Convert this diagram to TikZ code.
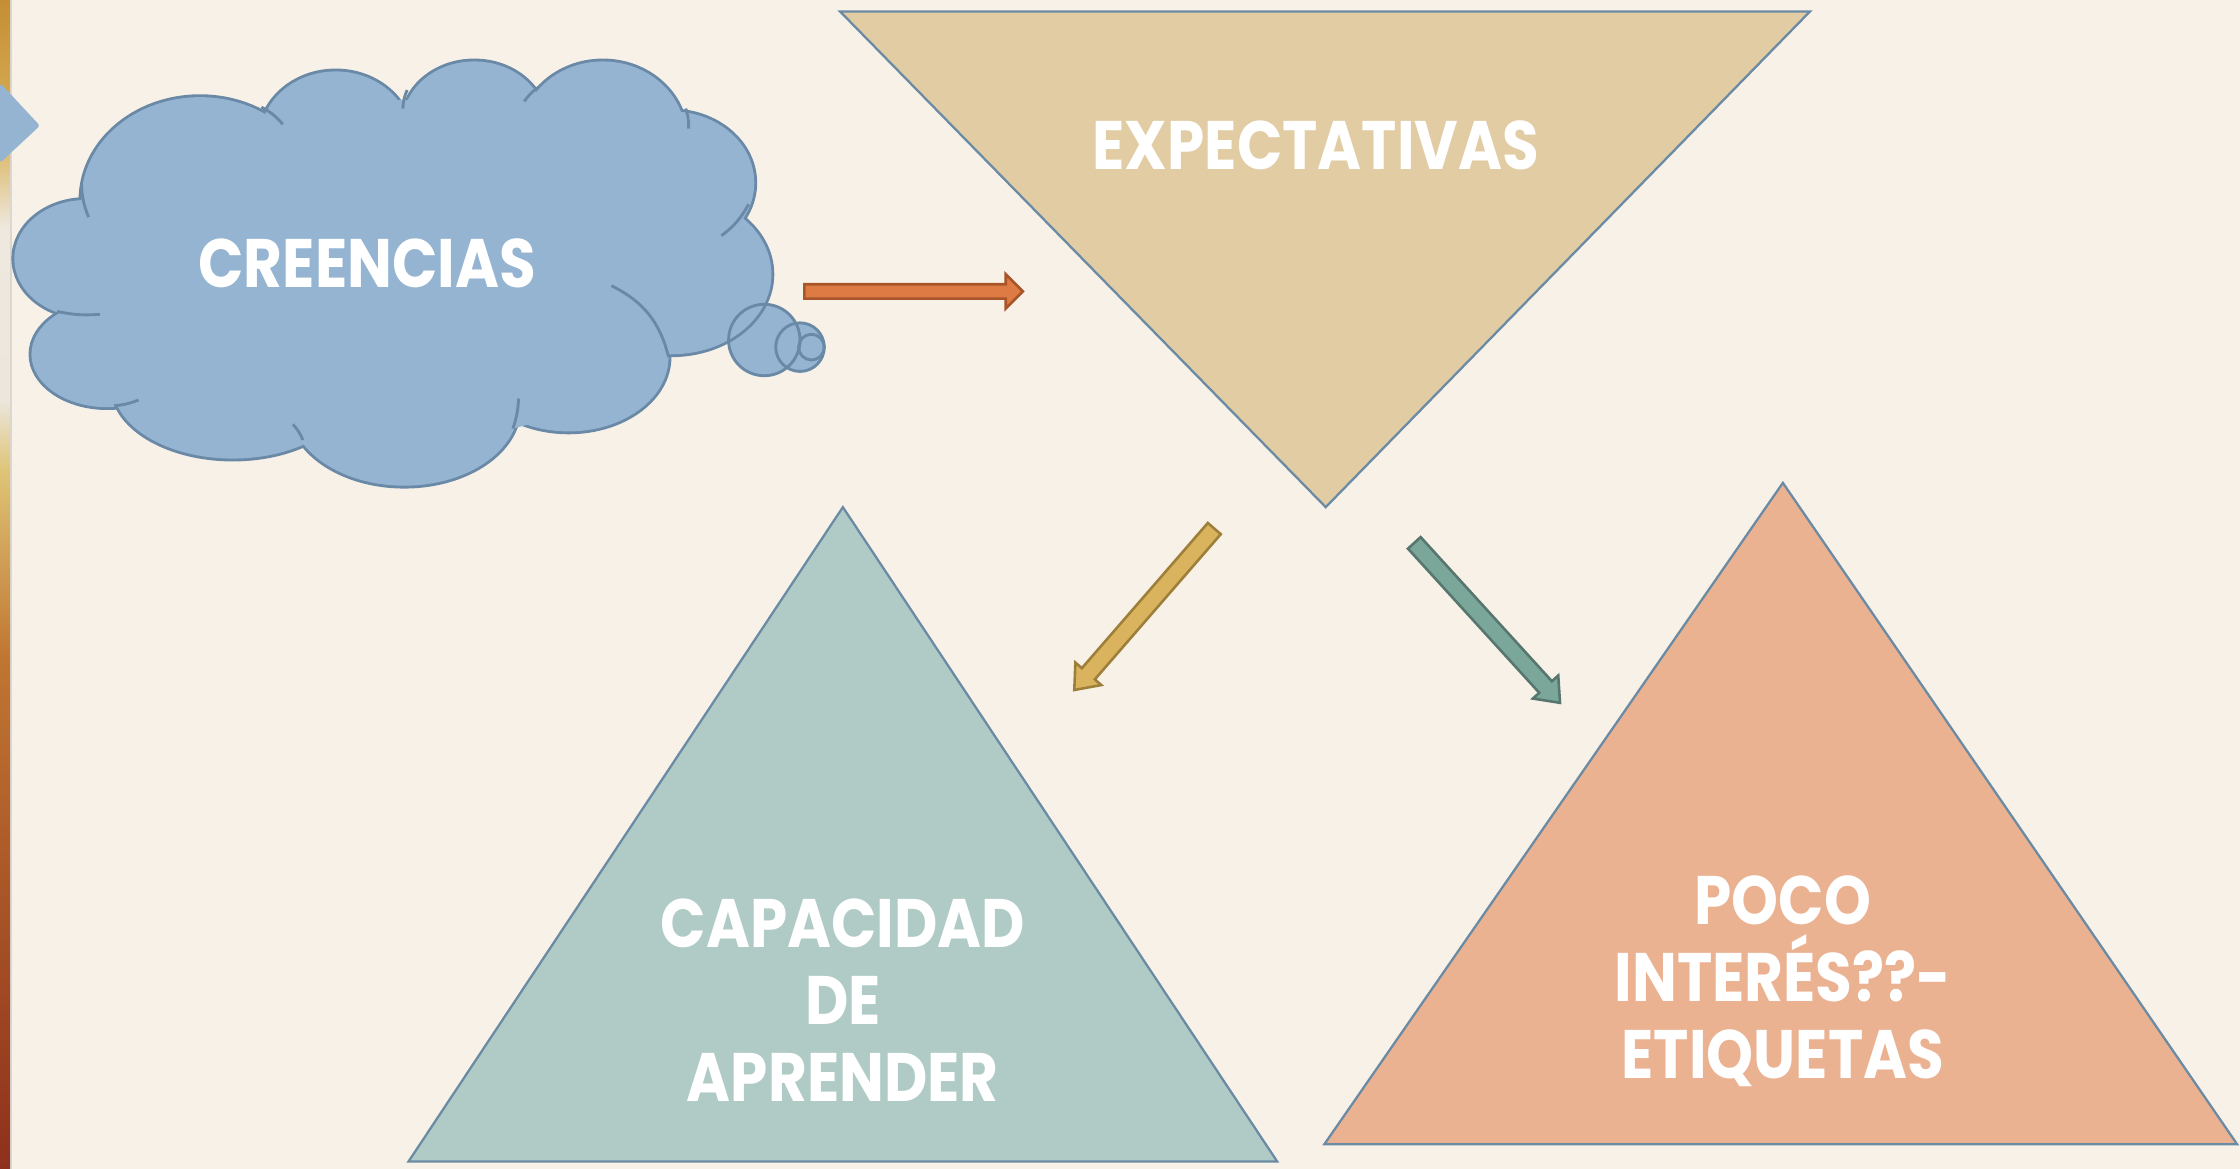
\documentclass[tikz,border=0pt]{standalone}
\usepackage{fontspec}
\setmainfont{Poppins}
\usetikzlibrary{calc}
\definecolor{bg}{HTML}{F8F1E7}
\definecolor{edge}{HTML}{6B8BA4}
\definecolor{cloudfill}{HTML}{94B4D2}
\definecolor{cloudline}{HTML}{6A89A6}
\definecolor{trifillA}{HTML}{E1CCA3}
\definecolor{trifillB}{HTML}{B0CBC5}
\definecolor{trifillC}{HTML}{EBB292}
\definecolor{arrO}{HTML}{DE7B45}\definecolor{arrOd}{HTML}{A8552A}
\definecolor{arrG}{HTML}{D9B35E}\definecolor{arrGd}{HTML}{9E7F3A}
\definecolor{arrT}{HTML}{7BA79A}\definecolor{arrTd}{HTML}{56766E}
\newcommand\blockarrow[7]{% tail, tip, fill, draw, shaft half, head half, head len
  \coordinate (hb) at ($(#2)!#7!(#1)$);
  \filldraw[fill=#3,draw=#4,line width=0.9pt,line join=miter]
    ($(#1)!#5!90:(#2)$) -- ($(hb)!#5!-90:(#1)$) -- ($(hb)!#6!-90:(#1)$) -- (#2)
    -- ($(hb)!#6!90:(#1)$) -- ($(hb)!#5!90:(#1)$) -- ($(#1)!#5!-90:(#2)$) -- cycle;}
\tikzset{
  tri/.style={draw=edge,line width=0.8pt,line join=miter},
  label/.style={text=white,font=\bfseries\fontsize{24}{27}\selectfont,align=center,inner sep=0pt,xscale=0.87,transform shape},
}
\begin{document}
\begin{tikzpicture}[x=0.5pt,y=-0.5pt]
\useasboundingbox (0,0) rectangle (1568,818);
\fill[bg] (0,0) rectangle (1568,818);
% left strip
\shade[top color={rgb,255:red,196;green,142;blue,52},bottom color={rgb,255:red,218;green,178;blue,90}] (0,0) rectangle (7,95);
\shade[top color={rgb,255:red,218;green,178;blue,90},bottom color={rgb,255:red,238;green,232;blue,222}] (0,95) rectangle (7,160);
\shade[top color={rgb,255:red,238;green,232;blue,222},bottom color={rgb,255:red,236;green,230;blue,220}] (0,160) rectangle (7,280);
\shade[top color={rgb,255:red,236;green,230;blue,220},bottom color={rgb,255:red,222;green,196;blue,118}] (0,280) rectangle (7,330);
\shade[top color={rgb,255:red,222;green,196;blue,118},bottom color={rgb,255:red,192;green,118;blue,50}] (0,330) rectangle (7,460);
\shade[top color={rgb,255:red,192;green,118;blue,50},bottom color={rgb,255:red,142;green,48;blue,28}] (0,460) rectangle (7,818);
\fill[black!25,opacity=0.5] (7,0) rectangle (8.5,818);
% pointer
\fill[cloudfill,rounded corners=1pt] (0,58) -- (28,88) -- (0,114) -- cycle;
% bubble fills
\fill[cloudfill] (535,238) circle[radius=12.5pt];
% cloud
\def\lobes{60/181/50/41, 75/248/53/37, 140/140/83/72, 235/97/53/47, 332/86/50/43, 422/96/58/53, 470/128/58/50, 470/192/70/56, 398/250/70/52, 283/285/80/55, 163/270/84/51}
\foreach \cx/\cy/\rx/\ry in \lobes
  \draw[cloudline,line width=2pt] (\cx,\cy) ellipse[x radius={\rx*0.5pt}, y radius={\ry*0.5pt}];
\foreach \cx/\cy/\rx/\ry in \lobes
  \fill[cloudfill] (\cx,\cy) ellipse[x radius={\rx*0.5pt}, y radius={\ry*0.5pt}];
\fill[cloudfill] (275,190) ellipse[x radius=105pt, y radius=60pt];
\begin{scope}[cloudline,line width=1pt]
\draw (183,75) to[bend left=10] (198,87);
\draw (285,63) to[bend right=10] (282,76);
\draw (377,61) to[bend right=10] (367,71);
\draw (480,76) to[bend left=10] (482,90);
\draw (524,143) to[bend left=12] (505,165);
\draw (57,128) to[bend right=10] (62,152);
\draw (40,218) to[bend right=8] (70,220);
\draw (80,284) to[bend right=8] (97,280);
\draw (205,297) to[bend left=10] (212,308);
\draw (363,279) to[bend left=8] (359,300);
\draw (428,200) to[bend left=25] (468,250);
\end{scope}
\fill[cloudfill] (560,243) circle[radius=8.5pt];
\draw[cloudline,line width=1pt] (535,238) circle[radius=12.5pt];
\draw[cloudline,line width=1pt] (560,243) circle[radius=8.5pt];
\draw[cloudline,line width=1pt] (568,243) circle[radius=4.5pt];
\node[label] (creencias) at (257,184) {CREENCIAS};
% triangles
\coordinate (e1) at (588,8); \coordinate (e2) at (1267,8); \coordinate (e3) at (928,355);
\filldraw[tri,fill=trifillA] (e1) -- (e2) -- (e3) -- cycle;
\node[label] (expect) at (921,102) {EXPECTATIVAS};
\coordinate (c1) at (590,355); \coordinate (c2) at (894,813); \coordinate (c3) at (286,813);
\filldraw[tri,fill=trifillB] (c1) -- (c2) -- (c3) -- cycle;
\node[label] (capac) at (590,700) {CAPACIDAD\\DE\\APRENDER};
\coordinate (p1) at (1248,338); \coordinate (p2) at (1566,801); \coordinate (p3) at (927,801);
\filldraw[tri,fill=trifillC] (p1) -- (p2) -- (p3) -- cycle;
\node[label] (poco) at (1248,687) {POCO\\INTERÉS??-\\ETIQUETAS};
% arrows
\coordinate (oa) at (563,204); \coordinate (ob) at (716,204);
\blockarrow{oa}{ob}{arrO}{arrOd}{2.5pt}{6pt}{6pt}
\coordinate (ga) at (850,370); \coordinate (gb) at (752,483);
\blockarrow{ga}{gb}{arrG}{arrGd}{3pt}{6pt}{7.5pt}
\coordinate (ta) at (990,380); \coordinate (tb) at (1092,492);
\blockarrow{ta}{tb}{arrT}{arrTd}{3pt}{6pt}{7.5pt}
\end{tikzpicture}
\end{document}
